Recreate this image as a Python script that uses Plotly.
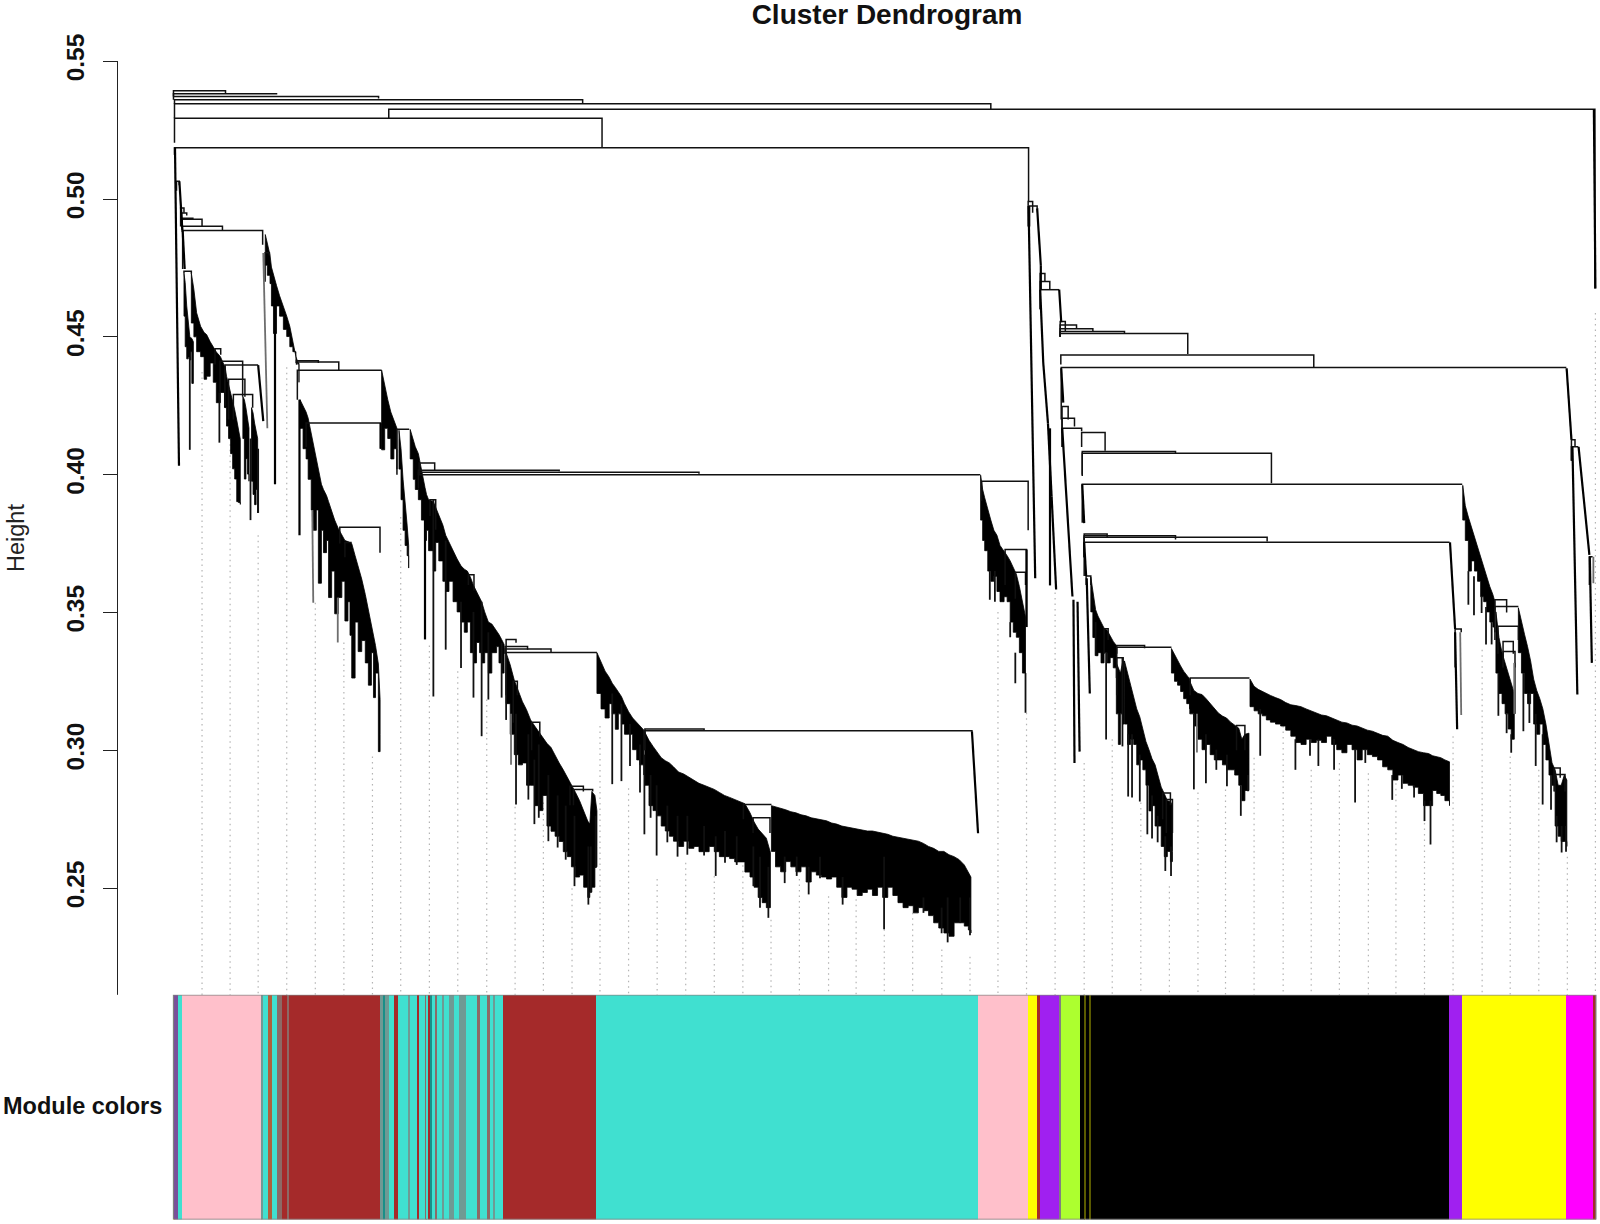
import plotly.graph_objects as go

TITLE = "Cluster Dendrogram"
Y_LABEL = "Height"
BAR_LABEL = "Module colors"
TICK_VALUES = [0.25, 0.30, 0.35, 0.40, 0.45, 0.50, 0.55]
TICK_TEXT = ["0.25", "0.30", "0.35", "0.40", "0.45", "0.50", "0.55"]
Y_MIN, Y_MAX = 0.2112, 0.55
LEAF_MIN, LEAF_MAX = 0, 1568

# ---- merges of the tree: left leaf pos, right leaf pos, height, left child height, right child height
merge_xl = [170,170,170,171,171,381,171,171,173,177,178,178.5,178.5,178.7,179,180.3,210.7,215.6,220.5,224,228.7,259.8,290.6,291,291.4,300,333,338,389,
            410.8,410,410,410,421.4,459,496,495,495,496,503,521,558.6,562,962,985,995,632,632,728.5,738,
            1007.6,1009,1019.4,1019.4,1019.4,1039,1039,1039,1039,1039,1039.6,1040,1040.8,1040.8,1041,1060,1060.6,1060.6,1060.6,
            1062.5,1062.5,1062.5,1062.5,1064.4,1082,1094.4,1094.4,1094.4,1139.4,1143,1166.4,1211.8,1426,1465,1465,1468,1473,1473,1523,1524,1540,1540,1557.6]
merge_xr = [221,271,371,571,971,1563,590,1008,175.7,180.3,183,189,198,218,257.4,187.5,216.3,237.8,253,240,247.6,264,312,332,374,373,372.4,344.7,401,
            426,548,685,960,427,464.5,505.7,517,540,585,507,529,571.7,580.8,1007.6,1006,1005,952.5,690,756,754.6,
            1012,1016.4,1024,1028.8,1038,1044,1055,1071,1102,1164,1287.5,1535,1046.8,1053,1060,1083,1152,1246,1433,
            1085,1152,1241.8,1420.6,1069,1086,1121.7,1148,1100.7,1147,1149,1224.5,1220,1432,1476.5,1488,1488,1483,1484.7,1529,1533.7,1543.5,1546.8,1560.8]
merge_h = [.5393,.5382,.5372,.536,.5346,.5326,.5293,.5186,.5064,.4967,.4949,.493,.4927,.4901,.4886,.4738,.4457,.4411,.4398,.4346,.4291,.4805,.4413,.4409,.4379,.4187,.3809,.3754,.4165,
           .4042,.4016,.4009,.4,.3909,.3637,.3402,.3376,.3367,.3355,.325,.3102,.2869,.2858,.3976,.3728,.3646,.3071,.3077,.2803,.2755,
           .4991,.4975,.473,.4701,.4671,.4556,.4543,.4529,.4519,.4512,.4434,.4389,.4247,.4205,.4168,.4153,.4084,.4078,.3965,
           .3785,.3778,.3773,.3755,.3632,.3441,.338,.3374,.3336,.2845,.2821,.3262,.309,.344,.3546,.3522,.345,.3395,.3358,.2936,.2912,.4127,.4101,.3702]
merge_hl = [.5375,.5372,.536,.5346,.5293,.5293,.5204,.516,.503,.49,.49,.49,.49,.488,.4746,.473,.44,.43,.425,.42,.42,.47,.44,.44,.4272,.41,.375,.37,.4,
            .4,.4,.4,.395,.385,.36,.335,.335,.335,.32,.31,.30,.28,.28,.3905,.36,.355,.30,.30,.275,.27,
            .49,.49,.46,.46,.4671,.45,.45,.45,.45,.45,.44,.42,.415,.41,.41,.41,.4,.3995,.3825,
            .37,.37,.37,.3632,.36,.335,.335,.33,.32,.275,.27,.32,.30,.33,.35,.34,.335,.33,.33,.285,.285,.405,.405,.36]
merge_hr = [.5382,.5379,.5365,.5345,.5326,.4675,.5186,.4993,.505,.495,.494,.4925,.4901,.4886,.4834,.473,.4435,.4283,.4398,.4283,.4243,.4795,.4405,.4379,.4379,.4094,.3717,.3754,.4165,
            .4015,.4012,.4003,.3998,.38,.358,.339,.3365,.3356,.3355,.32,.305,.285,.285,.3798,.3447,.36,.3069,.3072,.2803,.27,
            .495,.4967,.47,.4671,.4671,.452,.4528,.4519,.451,.4438,.439,.4389,.42,.4175,.4157,.4087,.4075,.3969,.3965,
            .377,.3765,.3757,.3755,.36,.34,.337,.3374,.33,.28,.27,.3262,.30,.3428,.35,.3522,.34,.335,.33,.29,.285,.41,.4101,.3702]

# ---- dense leaf groups: positions, upper heights, lower heights
a_x = [180.3,181.5,183,184.5,186,187,188,189.5]
a_top = [.473,.4697,.4612,.4557,.4501,.4497,.4494,.4482]
a_low = [.4575,.4464,.442,.4427,.4416,.4446,.4331,.4464]

b_x = [187.5,190,192.7,196.6,200,202.5,206,209,212,216,220]
b_top = [.4731,.4672,.4587,.4538,.4516,.4508,.4482,.4464,.4445,.4428,.4394]
b_low = [.455,.450,.4446,.4428,.4346,.4357,.4405,.4335,.4261,.4298,.4243]

c_x = [220.5,222,224,226,228,230,232,233.6,235.5]
c_top = [.4394,.4357,.4327,.4298,.4261,.4235,.4198,.4169,.4128]
c_low = [.4243,.4176,.4131,.4076,.4021,.3984,.3902,.3899,.3892]

d_x = [238,239.5,241,242.5,244]
d_top = [.4283,.4272,.4243,.4206,.4169]
d_low = [.4131,.3984,.4058,.4002,.3976]

e_x = [246.5,248,249.5,251,252.5]
e_top = [.4243,.4224,.4187,.415,.4131]
e_low = [.3976,.3928,.3891,.3946,.3861]

f_x = [260,262,264.6,266,268,271,274,277.7,281,284,287,290,293]
f_top = [.4871,.4834,.4797,.4753,.4723,.4686,.4649,.4612,.4575,.4538,.4483,.4428,.4398]
f_low = [.476,.4723,.4693,.4612,.4512,.4612,.4575,.4527,.4501,.4464,.4446,.4405,.4335]

g_x = [294,297,300,302,305,307,310,312,315,317,320,322,325,328,331.5,335,338,341,343,344.7,348,351,354.5,358,361,364,366,368,370.8,372.5]
g_top = [.4272,.4249,.4227,.4205,.415,.4109,.4053,.4027,.3965,.3946,.3924,.3902,.3868,.3835,.3805,.378,.3761,.3757,.3754,.375,.3706,.3669,.3621,.3565,.3509,.3458,.3428,.338,.3313,.3184]
g_low = [.4168,.4094,.4057,.3983,.3872,.3798,.3872,.3606,.3798,.3717,.3761,.3554,.365,.3495,.3554,.3613,.3469,.3539,.3417,.3262,.3465,.3358,.3398,.3317,.3236,.3354,.3191,.328,.2995,.3058]

h_x = [374,377,380,383,386,389]
h_top = [.4379,.4323,.4272,.4227,.4198,.4168]
h_low = [.409,.4168,.4131,.4057,.4094,.402]

i_x = [391,393,395,397,399,400.5]
i_top = [.4161,.4094,.3983,.3909,.3817,.3743]
i_low = [.402,.3909,.3798,.3743,.3706,.3661]

j_x = [402,405,407,410,413,416.5,418,420,424.7,427,430,434,436.8,440,444,448,451.8,455,458,461,464,467,470,472,475,478.6,482,486.7,489,491.6,494]
j_top = [.4164,.4124,.4101,.4076,.4013,.3953,.3928,.3909,.3902,.388,.3854,.3817,.378,.3754,.3724,.3694,.3669,.3657,.365,.3628,.3598,.3576,.3557,.3539,.3502,.3465,.3458,.3435,.342,.3402,.3384]
j_low = [.4057,.3983,.3946,.3909,.3835,.3761,.3798,.3724,.365,.3754,.3687,.3613,.3576,.3613,.3539,.3502,.3465,.3428,.3465,.3354,.3317,.3391,.3354,.3317,.3354,.328,.3354,.3376,.3317,.328,.3317]

k_x = [496,500,504,508,512,516,520,524,528,532,536,540,544,548,552,556,560,564,568,572,576,578,580,583,585]
k_top = [.3354,.331,.3254,.3213,.3176,.3147,.311,.3088,.3066,.3043,.3025,.301,.298,.2954,.2929,.2903,.2873,.2847,.2817,.278,.2743,.2732,.285,.2836,.278]
k_low = [.3169,.3058,.2984,.2947,.2954,.2873,.2873,.2799,.2781,.2836,.2725,.2706,.2688,.2669,.2632,.2614,.2577,.254,.2547,.2503,.2466,.2485,.2503,.2577,.2651]

m_x = [585,589,593,597,600,603,606,609,612,616,620,624,627,631]
m_top = [.3354,.3317,.3287,.3265,.3243,.3228,.3213,.3195,.3169,.314,.3117,.3102,.3088,.3073]
m_low = [.3206,.315,.3117,.3169,.3132,.3076,.3132,.3095,.3058,.3058,.3002,.2965,.2947,.291]

n_x = [632,636,640,644,648,652,656,660,665,670,675,680,685,690,695,700,705,710,715,720,725,730,735,739,743,747,751,755]
n_top = [.3065,.3036,.3014,.2991,.2973,.2962,.2954,.294,.2921,.2914,.2903,.2892,.288,.2873,.2866,.2858,.2847,.2836,.2829,.2821,.2814,.2806,.2773,.274,.2714,.2699,.2681,.2629]
n_low = [.2873,.2799,.2781,.2762,.2725,.2707,.2688,.267,.2651,.267,.2644,.2651,.2632,.2632,.2651,.2632,.2614,.2614,.2607,.2595,.2595,.2558,.254,.2503,.2466,.2447,.2429,.2503]

o_x = [756,760,765,770,775,780,785,790,795,800,805,810,815,820,825,830,835,840,845,850,855,860,865,870,875,880,885,890,895,900,905,910,915,920,925,930,935,940,945,949,951.5]
o_top = [.2799,.2795,.2788,.2784,.2777,.2773,.2766,.2762,.2755,.2751,.2747,.2744,.2736,.2732,.2725,.2721,.2718,.2714,.271,.2707,.2707,.2703,.2699,.2695,.2688,.2684,.2681,.2677,.2673,.267,.2662,.2651,.2644,.2633,.2633,.2621,.2614,.2603,.2584,.2559,.254]
o_low = [.2633,.2577,.2559,.2596,.2577,.2559,.2577,.2522,.2559,.2547,.254,.2533,.254,.2503,.2466,.2503,.2496,.2473,.2484,.2496,.2473,.2503,.2466,.2503,.2473,.2447,.2429,.2436,.241,.2429,.2418,.24,.2374,.2355,.2337,.2325,.2374,.2374,.2362,.2348,.2337]

p_x = [961,963,965,968,971,974,977,980,984,987,990,993,996,999,1002,1005]
p_top = [.3998,.3946,.3916,.3872,.3835,.3798,.378,.3743,.3724,.3706,.3687,.3665,.3639,.3594,.3539,.3484]
p_low = [.3835,.3761,.3724,.365,.3613,.3631,.3576,.3539,.3557,.3539,.3465,.3428,.341,.3354,.328,.3169]

q_x = [1069,1071,1073.7,1076,1079,1082,1085,1088,1091,1094]
q_top = [.3628,.3569,.351,.3487,.3465,.3443,.3435,.3413,.3395,.338]
q_low = [.3502,.3409,.3343,.3354,.3317,.3354,.3317,.3336,.3299,.3262]

r_x = [1094,1096,1098,1100,1101.5]
r_top = [.3317,.3299,.328,.3317,.3324]
r_low = [.3132,.3021,.3132,.3095,.3132]

s_x = [1102,1105,1108,1111,1114,1117,1120,1123,1126,1129,1132,1135,1138,1141,1144,1147,1149]
s_top = [.3324,.328,.3236,.3191,.315,.3121,.3077,.3032,.3002,.2969,.2947,.291,.2866,.2843,.2817,.2814,.2799]
s_low = [.3095,.3021,.304,.3021,.2947,.2965,.2929,.2873,.278,.2799,.2725,.2725,.2651,.2614,.2633,.2596,.2633]

t_x = [1148,1151,1154,1157,1160,1163,1166]
t_top = [.3369,.3347,.3324,.3306,.3287,.3273,.3258]
t_low = [.328,.325,.3236,.3213,.3187,.3169,.315]

u_x = [1166,1170,1174,1178,1182,1186,1190,1194,1198,1202,1206,1210,1214,1217,1220,1224]
u_top = [.325,.3217,.3206,.3202,.3187,.3169,.315,.3135,.3124,.3117,.3102,.3091,.308,.304,.3058,.3062]
u_low = [.3132,.3088,.304,.3002,.3021,.2984,.2965,.2965,.2947,.2929,.2929,.291,.2873,.2817,.2854,.2891]

v_x = [1225,1229,1233,1237,1241,1245,1250,1255,1260,1265,1270,1275,1280,1285,1290,1295,1300,1305,1310,1315,1320,1325,1330,1335,1340,1345,1350,1355,1360,1365,1370,1375,1380,1385,1390,1395,1400,1404,1408,1412,1416,1420.5]
v_top = [.3258,.3232,.3221,.3213,.3206,.3199,.3191,.3184,.3173,.3165,.3162,.3158,.315,.3143,.3136,.3128,.3125,.3117,.311,.3102,.3099,.3091,.3088,.308,.3073,.3069,.3062,.3054,.3051,.3036,.3028,.3021,.301,.3002,.2995,.2991,.2988,.298,.2977,.2973,.2965,.2958]
v_low = [.3158,.3143,.3132,.3125,.311,.3102,.3095,.3088,.3073,.3051,.3028,.3021,.304,.3028,.3036,.3028,.3051,.3021,.3002,.2991,.3021,.3002,.2965,.3002,.2984,.2977,.2965,.294,.2929,.2892,.291,.288,.2873,.2866,.2843,.2799,.2799,.2854,.2843,.2836,.2817,.2799]

w_x = [1433.5,1436,1439,1442,1445,1448,1451,1454,1457,1460,1463,1465]
w_top = [.3961,.3887,.3846,.3809,.3772,.3735,.3698,.3661,.3624,.3594,.3565,.3539]
w_low = [.3835,.3761,.365,.3687,.365,.3613,.3557,.3539,.3502,.3465,.3447,.3428]

y_x = [1466,1469,1472,1475,1478,1481,1484]
y_top = [.3502,.3409,.3354,.3317,.328,.3236,.3206]
y_low = [.328,.3206,.3169,.3132,.3077,.304,.3132]

z_x = [1488,1491,1494,1497,1500,1503,1506,1509,1512,1515,1518,1521,1524,1527,1530,1533,1535.5]
z_top = [.3517,.3465,.3421,.3376,.3324,.3258,.3217,.3187,.315,.3095,.3021,.2954,.2929,.2873,.2873,.291,.2892]
z_low = [.3354,.328,.3206,.3169,.3206,.3095,.3058,.3095,.3021,.2965,.291,.2873,.2725,.2688,.2669,.2669,.2651]

# ---- single leaves hanging below the groups
spike_x = [186,215,245.5,253,424.7,436.8,451.8,464,472,478.6,491.6,496,505.7,517.8,523.7,528,537.4,546.5,554.4,563,576.6,579,583.8,
           600,609,617.4,627.2,631.5,637.6,643.5,654,664,673.6,690,701.4,710.5,722,738.3,744.8,753,769,780.8,792.5,803.6,825.8,866.4,905,922.8,928.7,941,950.6,
           970,975,990,995,1005,1084,1100,1073.7,1105.6,1109.4,1117,1124.4,1129,1134.5,1142,1147.6,1170,1181.8,1192,1202.4,1216,1223,
           1235,1269.5,1283.8,1292,1307.4,1328,1338,1364.4,1373.8,1385.8,1396,1401.9,1439,1444.5,1452,1456.3,1461.8,1468.4,1476.5,1481,1484.5,1492.9,1498.8,1505,1511.8,1520,1525.5,1530.4,1534.7]
spike_top = [.4427,.4298,.4131,.4094,.3909,.3761,.3539,.3502,.3539,.3428,.339,.3354,.3132,.3058,.2966,.3021,.291,.2836,.2799,.2762,.2651,.2651,.2762,
             .3206,.3169,.3095,.3021,.2984,.291,.2873,.2799,.2762,.2762,.2725,.2688,.2707,.2688,.2651,.2614,.2577,.2614,.2614,.2577,.2614,.254,.2614,.2466,.2429,.2466,.2466,.2466,
             .365,.365,.3465,.3354,.328,.3354,.3336,.3465,.3058,.3058,.2984,.2873,.2836,.2762,.2688,.2651,.3132,.3058,.3002,.2984,.2873,.291,
             .315,.304,.304,.304,.304,.3002,.3002,.291,.291,.2873,.2817,.2817,.365,.3631,.3557,.352,.3465,.328,.3132,.3058,.3317,.328,.3206,.3132,.3058,.291,.2762,.2725,.2725]
spike_low = [.409,.4116,.3835,.3861,.3195,.3365,.3298,.3191,.3051,.3184,.3191,.311,.2803,.2821,.2732,.2755,.267,.2647,.2603,.2507,.244,.2484,.2573,
             .2877,.2888,.2943,.2847,.2695,.2755,.2618,.2666,.2614,.2621,.2618,.2544,.2592,.2584,.2507,.2429,.2392,.2518,.2544,.2477,.2536,.244,.2351,.241,.2336,.2303,.2373,.2329,
             .3546,.3539,.341,.3243,.3136,.3039,.3014,.3343,.2832,.2829,.2814,.2695,.268,.2666,.2562,.2544,.2858,.288,.2929,.2869,.2762,.2851,
             .298,.2929,.298,.2943,.2929,.281,.2954,.282,.286,.2829,.2743,.2658,.3528,.349,.3498,.3384,.3384,.3125,.3062,.2991,.3132,.3069,.3099,.2943,.2803,.2784,.2666,.2629,.2632]

# ---- long slanted chains: upper position, lower position, upper height, lower height
stem_x0 = [171.5,175.8,179,253,269.5,293.5,373,416.5,952.5,1006,1008,1016.4,1020,1019.4,1022.4,1029,1027,1030.6,1038,1040,1041,1052,1056,1060.6,1062.5,1065,1421,1426,1535.3,1541,1547,1558,1562]
stem_x1 = [175.4,178.7,181,258,269.5,293.5,373,416.5,958.5,1006,1014.5,1020,1020,1022.4,1027,1029,1030.6,1035,1040,1042,1051,1053,1058,1062.5,1064.4,1068,1426,1428,1540,1545.8,1557.6,1560,1563.5]
stem_top = [.5186,.5064,.4886,.4397,.4693,.4272,.4187,.3872,.3069,.3728,.4975,.4967,.476,.4671,.4405,.4168,.4186,.392,.4671,.4386,.4168,.3546,.3539,.3965,.3754,.3624,.3754,.3428,.4386,.4101,.4101,.3702,.5326]
stem_low = [.4032,.4886,.4746,.4194,.3965,.378,.4094,.3402,.2699,.3447,.3624,.476,.4671,.4405,.4186,.3598,.392,.3583,.4553,.4261,.3558,.2954,.2995,.3824,.3632,.3206,.344,.3076,.4127,.3202,.3709,.3317,.4675]

# ---- lighter leaves
gray_x0 = [258,500.8,1431,1561.5,1484,1173,306,331]
gray_x1 = [262,500.8,1432,1561.5,1484,1173,307,331]
gray_top = [.4804,.3132,.3428,.3702,.3317,.3132,.3872,.3554]
gray_low = [.4168,.2947,.3128,.3606,.3132,.2992,.3535,.3391]

# ---- dotted guide lines hanging from the tree down to the colour band
guide_x = [198,225.5,253,281,309,337,365,392.7,420.8,448.6,477,504.8,532.5,560.6,588,616,644,672,700,728,755.6,783.4,812,839,866.6,894.4,923,950.6,978,
           1006,1034,1062.5,1090,1118,1146,1174,1201,1229,1257.5,1285,1312.6,1341,1368,1396,1424,1452.5,1480,1508,1536,1563.5]
guide_top = [.4372,.415,.378,.439,.3535,.3391,.2977,.3846,.338,.3287,.3184,.2795,.281,.2499,.3088,.2862,.2533,.2592,.2544,.2603,.2385,.2533,.247,.2459,.2351,.241,.2277,.2251,.3502,
             .3136,.3572,.2954,.304,.281,.2507,.2847,.2858,.2973,.3088,.2929,.2954,.2917,.288,.2736,.3051,.3365,.2977,.2929,.2614,.4586]

# ---- module colour band
TQ, BR, PK, YL, PU = "#40E0D0", "#A52A2A", "#FFC0CB", "#FFFF00", "#A020F0"
GR, GB, DT = "#6f9a94", "#8c6a66", "#1a8f88"
band_edges = [170,171,174,178,256.4,258,262.3,267,271.8,276,281,283.5,372.4,375.3,377.3,381.2,386.1,389.7,400.2,401.5,408.3,411,416.5,418.1,419.8,421.4,423.7,426.3,427.9,432.8,434.8,440,444.6,449.8,456.4,467.1,470.4,476.9,480.2,483.5,485.1,493.3,584,958.5,1007,1016,1019.4,1038,1039.3,1058,1063,1064.5,1067,1069.5,1420,1432.5,1534.3,1561.5,1564]
band_colors = [YL,"#7a4f9a",TQ,PK,GR,TQ,"#b0603a",TQ,GB,BR,GB,BR,GR,DT,GR,TQ,BR,TQ,GR,TQ,BR,TQ,GB,TQ,BR,DT,TQ,GB,TQ,GR,TQ,GR,TQ,GR,TQ,GB,TQ,GB,TQ,GR,TQ,BR,TQ,PK,YL,BR,PU,"#808080","#ADFF2F","#000000","#5a5a00","#000000","#5a5a00","#000000",PU,YL,"#FF00FF",BR]

groups = [(a_x,a_top,a_low),(b_x,b_top,b_low),(c_x,c_top,c_low),(d_x,d_top,d_low),(e_x,e_top,e_low),
          (f_x,f_top,f_low),(g_x,g_top,g_low),(h_x,h_top,h_low),(i_x,i_top,i_low),(j_x,j_top,j_low),
          (k_x,k_top,k_low),(m_x,m_top,m_low),(n_x,n_top,n_low),(o_x,o_top,o_low),(p_x,p_top,p_low),
          (q_x,q_top,q_low),(r_x,r_top,r_low),(s_x,s_top,s_low),(t_x,t_top,t_low),(u_x,u_top,u_low),
          (v_x,v_top,v_low),(w_x,w_top,w_low),(y_x,y_top,y_low),(z_x,z_top,z_low)]


def segments(x0, x1, top, low):
    xs, ys = [], []
    for a, b, t, l in zip(x0, x1, top, low):
        xs += [a, b, None]
        ys += [t, l, None]
    return xs, ys


def polygon(x, top, low):
    xs, ys = list(x), list(top)
    xs.append(x[-1])
    ys.append(low[-1])
    for i in range(len(x) - 2, -1, -1):
        xs += [x[i + 1], x[i]]
        ys += [low[i], low[i]]
    xs += [x[0], None]
    ys += [top[0], None]
    return xs, ys


fig = go.Figure()

gx, gy = segments(guide_x, guide_x, guide_top, [Y_MIN] * len(guide_x))
fig.add_trace(go.Scatter(x=gx, y=gy, mode="lines", hoverinfo="skip",
                         line=dict(color="#b4b4b4", width=1.2, dash="1.5px,4px")))

px, py = [], []
for gxs, gtop, glow in groups:
    a, b = polygon(gxs, gtop, glow)
    px += a
    py += b
fig.add_trace(go.Scatter(x=px, y=py, mode="lines", fill="toself", fillcolor="#000000",
                         hoverinfo="skip", line=dict(color="#000000", width=0.8)))

mx, my = [], []
for xl, xr, h, hl, hr in zip(merge_xl, merge_xr, merge_h, merge_hl, merge_hr):
    mx += [xl, xl, xr, xr, None]
    my += [hl, h, h, hr, None]
fig.add_trace(go.Scatter(x=mx, y=my, mode="lines", hoverinfo="skip",
                         line=dict(color="#111111", width=1.5)))

sx, sy = segments(spike_x, spike_x, spike_top, spike_low)
fig.add_trace(go.Scatter(x=sx, y=sy, mode="lines", hoverinfo="skip",
                         line=dict(color="#111111", width=1.8)))

tx, ty = segments(stem_x0, stem_x1, stem_top, stem_low)
fig.add_trace(go.Scatter(x=tx, y=ty, mode="lines", hoverinfo="skip",
                         line=dict(color="#000000", width=2.2)))

qx, qy = segments(gray_x0, gray_x1, gray_top, gray_low)
fig.add_trace(go.Scatter(x=qx, y=qy, mode="lines", hoverinfo="skip",
                         line=dict(color="#6e6e6e", width=1.8)))

band_left = band_edges[:-1]
band_right = band_edges[1:]
fig.add_trace(go.Bar(x=[(l + r) / 2 for l, r in zip(band_left, band_right)],
                     y=[1] * len(band_colors),
                     width=[r - l for l, r in zip(band_left, band_right)],
                     marker=dict(color=band_colors, line=dict(width=0)),
                     yaxis="y2", hoverinfo="skip"))

font = "Liberation Sans, Arial, sans-serif"
fig.update_layout(
    width=1600, height=1224, autosize=False,
    margin=dict(l=0, r=0, t=0, b=0, autoexpand=False),
    paper_bgcolor="#ffffff", plot_bgcolor="#ffffff",
    showlegend=False, bargap=0,
    title=dict(text=TITLE, x=887 / 1600, xanchor="center", y=1 - 14 / 1224, yanchor="middle",
               font=dict(family=font, size=28, color="#111111", weight=700)),
    xaxis=dict(range=[LEAF_MIN, LEAF_MAX], domain=[0, 1], visible=False, fixedrange=True, automargin=False),
    yaxis=dict(range=[Y_MIN, Y_MAX], domain=[1 - 995 / 1224, 1 - 61.2 / 1224], automargin=False,
               anchor="free", position=116.8 / 1600, showgrid=False, zeroline=False,
               showline=True, linecolor="#222222", linewidth=1.4,
               ticks="outside", ticklen=14, tickwidth=1.4, tickcolor="#222222",
               tickvals=TICK_VALUES, ticktext=TICK_TEXT, tickangle=-90,
               ticklabelstandoff=9,
               tickfont=dict(family=font, size=24.5, color="#111111", weight=700)),
    yaxis2=dict(range=[0, 1], domain=[1 - 1219.4 / 1224, 1 - 994.8 / 1224], visible=False,
                anchor="x", fixedrange=True, automargin=False),
    shapes=[dict(type="rect", xref="x", yref="y2", x0=band_edges[0], x1=band_edges[-1], y0=0, y1=1,
                 line=dict(color="#808080", width=1.2), fillcolor="rgba(0,0,0,0)", layer="above")],
    annotations=[
        dict(text=Y_LABEL, xref="paper", yref="paper", x=16 / 1600, y=1 - 538 / 1224,
             xanchor="center", yanchor="middle", textangle=-90, showarrow=False,
             font=dict(family=font, size=23.5, color="#222222")),
        dict(text=BAR_LABEL, xref="paper", yref="paper", x=82 / 1600, y=1 - 1106 / 1224,
             xanchor="center", yanchor="middle", showarrow=False,
             font=dict(family=font, size=23.5, color="#111111", weight=700)),
    ],
)

fig.write_html("out.html", config={"displayModeBar": False}, post_script="document.body.style.margin='0';")
